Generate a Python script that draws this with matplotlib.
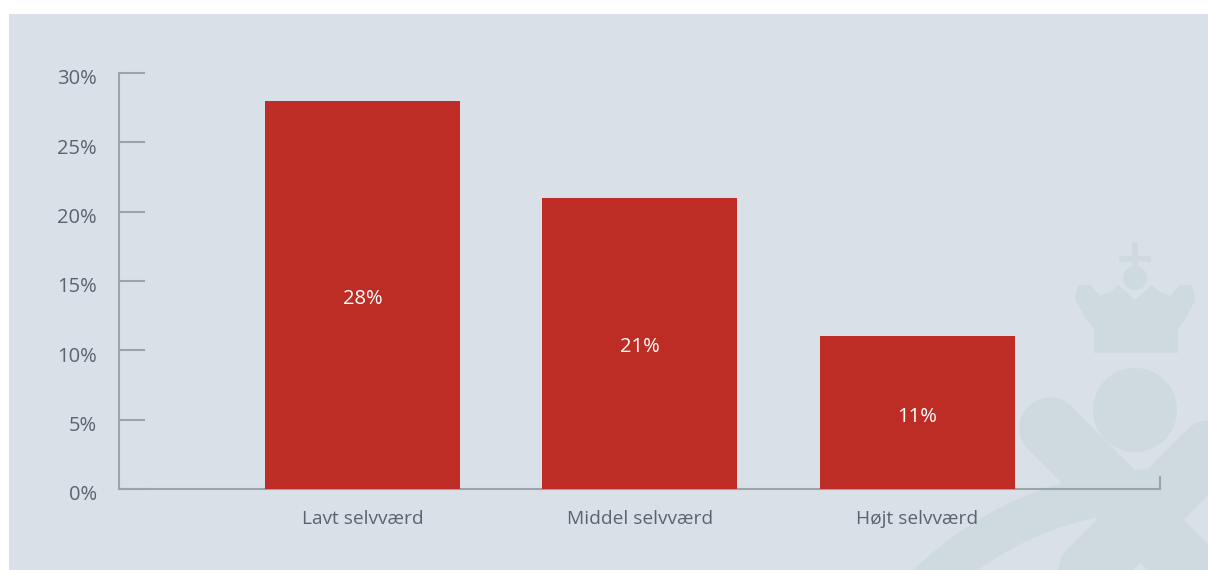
import numpy as np
import matplotlib.pyplot as plt
import matplotlib.transforms as mtransforms
from matplotlib.patches import Rectangle, Circle, Polygon
from matplotlib.lines import Line2D

categories = ["Lavt selvværd", "Middel selvværd", "Højt selvværd"]
values = [28, 21, 11]
yticks = [0, 5, 10, 15, 20, 25, 30]

W, H = 1208, 570
panel = "#d9e0e7"
mark = "#cfd9e0"
red = "#be2d25"
axis_col = "#9aa4ab"
text_col = "#5b646d"

plt.rcParams["font.family"] = ["Open Sans", "DejaVu Sans"]

fig = plt.figure(figsize=(W / 100, H / 100), dpi=100)
fig.patch.set_facecolor("white")

# grey panel with faint watermark (crown + cross), in pixel coords
bg = fig.add_axes([9 / W, 0, 1 - 9 / W, (H - 14) / H])
bg.set_xlim(9, W)
bg.set_ylim(H, 14)
bg.axis("off")
bg.add_patch(Rectangle((9, 14), W - 9, H - 14, color=panel, lw=0, zorder=0))
lw = 44
for (x0, y0, x1, y1) in [(1050, 428, 1260, 640), (1232, 428, 1020, 640)]:
    bg.plot([x0, x1], [y0, y1], color=mark, lw=lw, solid_capstyle="round")
bg.add_patch(Circle((1135, 410), 42, color=mark, lw=0))
bg.add_patch(Rectangle((1094, 326), 84, 27, color=mark, lw=0))
crown = [(1075, 300), (1078, 285), (1090, 285), (1100, 296), (1110, 292),
         (1118, 285), (1135, 300), (1152, 285), (1160, 292), (1170, 296),
         (1180, 285), (1192, 285), (1195, 300), (1185, 320), (1178, 328),
         (1094, 328), (1087, 320)]
bg.add_patch(Polygon(crown, closed=True, color=mark, lw=0))
bg.add_patch(Circle((1135, 278), 12, color=mark, lw=0))
bg.plot([1135, 1135], [245, 268], color=mark, lw=4)
bg.plot([1122, 1148], [259, 259], color=mark, lw=4)
theta = np.linspace(np.pi * 1.05, np.pi * 1.5, 50)
bg.plot(1160 + 330 * np.cos(theta), 820 + 330 * np.sin(theta), color=mark, lw=30)

# main axes
ax = fig.add_axes([119 / W, (H - 489) / H, (1160 - 119) / W, (489 - 73) / H])
ax.patch.set_alpha(0)
x = np.arange(len(categories))
bars = ax.bar(x, values, width=0.703, color=red, zorder=3)
down = mtransforms.ScaledTranslation(0, -4 / 100, fig.dpi_scale_trans)
for b, v in zip(bars, values):
    ax.text(b.get_x() + b.get_width() / 2, v / 2, f"{v}%", ha="center",
            va="center", color="white", fontsize=14.5,
            transform=ax.transData + down)

ax.set_xlim(-0.877, 2.874)
ax.set_ylim(0, 30)
ax.set_yticks(yticks)
ax.set_yticklabels([f"{t}%" for t in yticks])
ax.set_xticks(x)
ax.set_xticklabels(categories)
ax.tick_params(axis="y", direction="in", length=19, width=1.5, color=axis_col,
               pad=16, labelsize=14.5, labelcolor=text_col)
ax.tick_params(axis="x", length=0, pad=15, labelsize=13.8, labelcolor=text_col)
for lab in ax.get_yticklabels():
    lab.set_transform(lab.get_transform() + down)
for s in ["top", "right"]:
    ax.spines[s].set_visible(False)
for s in ["left", "bottom"]:
    ax.spines[s].set_color(axis_col)
    ax.spines[s].set_linewidth(1.5)
ax.add_line(Line2D([1, 1], [0, 0.028], transform=ax.transAxes, color=axis_col,
                   lw=1.5, clip_on=False))

fig.savefig("out.png", dpi=100)
